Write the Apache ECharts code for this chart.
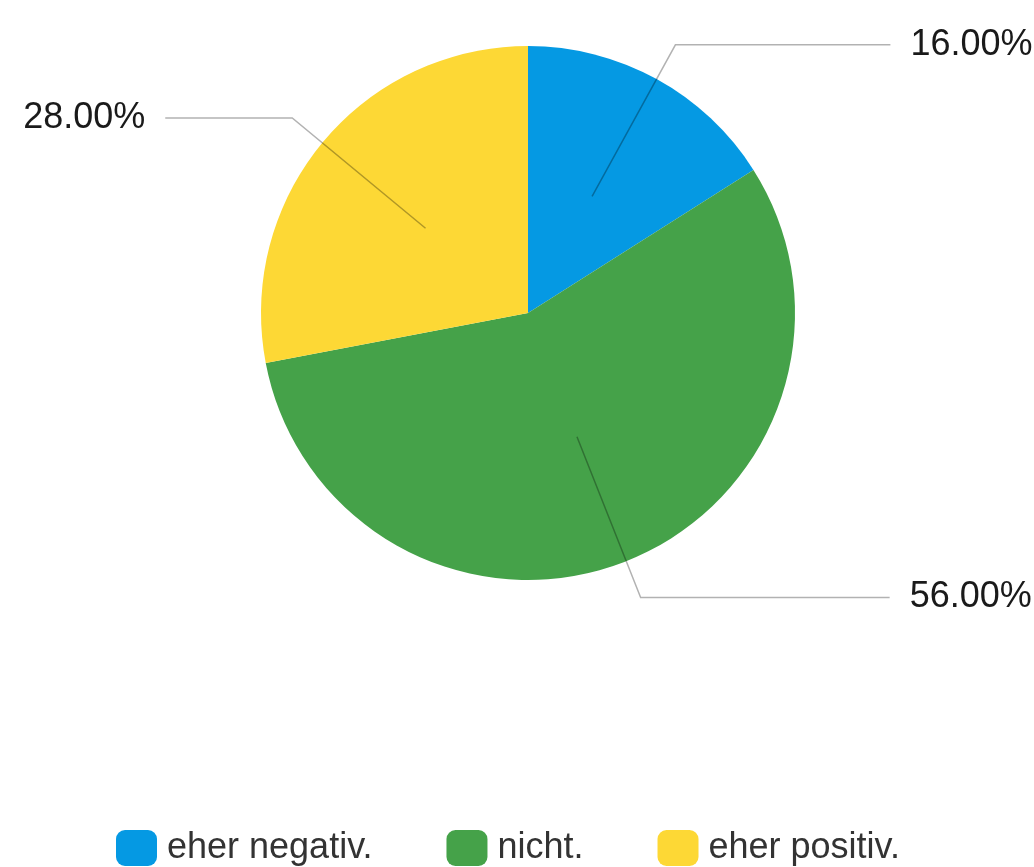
<!DOCTYPE html>
<html>
<head>
<meta charset="utf-8">
<script src="https://cdn.jsdelivr.net/npm/echarts@6/dist/echarts.min.js"></script>
<style>
  html, body { margin: 0; padding: 0; background: #fff; }
  #chart { width: 1034px; height: 867px; }
</style>
</head>
<body>
<div id="chart"></div>
<script>
const categories = ['eher negativ.', 'nicht.', 'eher positiv.'];
const values = [16, 56, 28];
const colors = ['#0599E3', '#45A249', '#FDD835'];
// per-slice horizontal label-line lengths (reach the label columns)
const lineLen2 = [215, 249, 127];

const chart = echarts.init(document.getElementById('chart'), null, { renderer: 'canvas' });

const mainData = categories.map((c, i) => ({
  name: c,
  value: values[i],
  itemStyle: { color: colors[i] }
}));

const labelData = categories.map((c, i) => ({
  name: c,
  value: values[i],
  labelLine: { length: 173, length2: lineLen2[i] }
}));

chart.setOption({
  backgroundColor: '#ffffff',
  animation: false,
  legend: {
    data: categories,
    left: 116,
    top: 830,
    padding: 0,
    icon: 'roundRect',
    itemWidth: 41,
    itemHeight: 36,
    itemGap: 74,
    textStyle: {
      fontFamily: 'Liberation Sans',
      fontSize: 36,
      color: '#333333',
      lineHeight: 36,
      padding: [0, 0, 0, 5]
    }
  },
  series: [
    {
      type: 'pie',
      z: 2,
      center: [528, 313],
      radius: 267,
      startAngle: 90,
      clockwise: true,
      label: { show: false },
      labelLine: { show: false },
      emphasis: { disabled: true },
      data: mainData
    },
    {
      type: 'pie',
      z: 5,
      center: [528, 313],
      radius: 133,
      startAngle: 90,
      clockwise: true,
      silent: true,
      avoidLabelOverlap: false,
      itemStyle: { color: 'rgba(0,0,0,0)', borderWidth: 0 },
      emphasis: { disabled: true },
      label: {
        show: true,
        position: 'outer',
        alignTo: 'none',
        bleedMargin: 0,
        overflow: 'none',
        distanceToLabelLine: 20,
        fontFamily: 'Liberation Sans',
        fontSize: 36,
        color: '#1a1a1a',
        formatter: p => p.value.toFixed(2) + '%'
      },
      labelLine: {
        show: true,
        smooth: false,
        lineStyle: { color: 'rgba(0,0,0,0.3)', width: 1.5 }
      },
      data: labelData
    }
  ]
});
</script>
</body>
</html>
